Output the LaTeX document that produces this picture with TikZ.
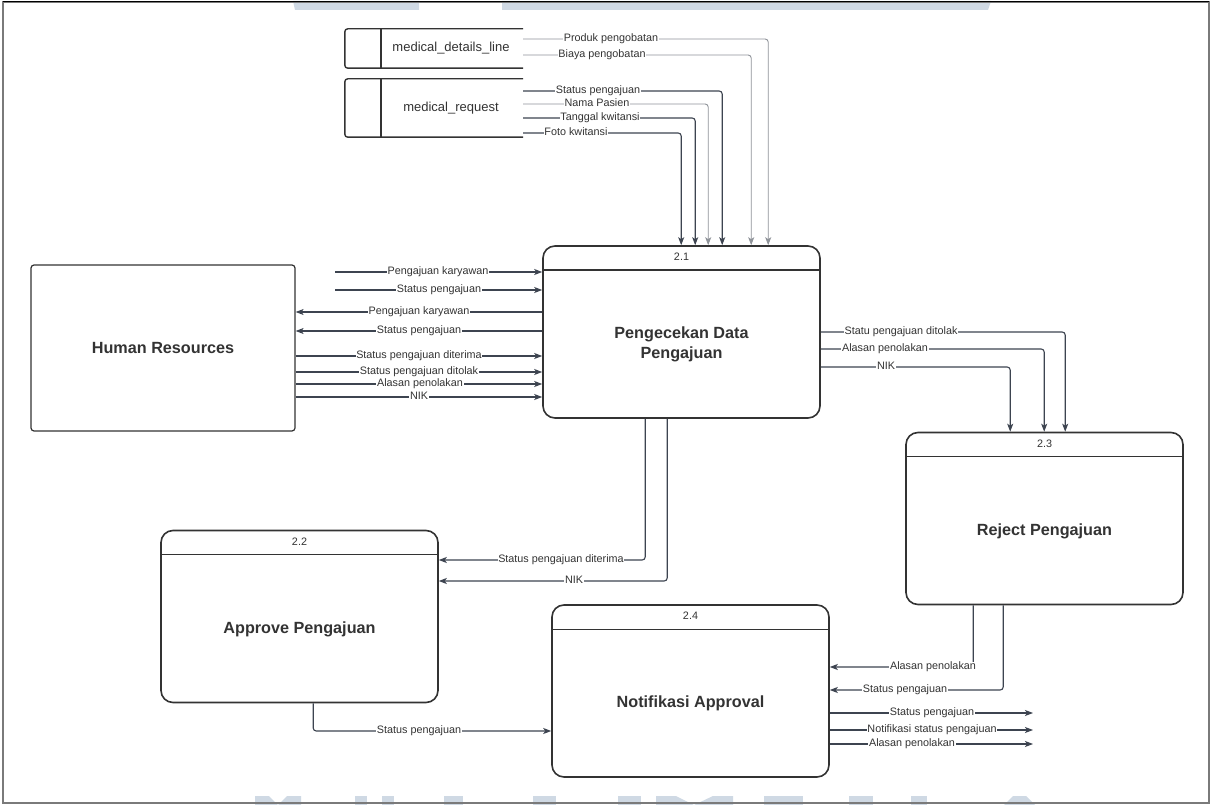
\documentclass[tikz,border=0pt]{standalone}
\usepackage{fontspec}
\setmainfont{Liberation Sans}
\usetikzlibrary{arrows.meta,calc}

\definecolor{ink}{HTML}{333333}
\definecolor{flow}{HTML}{3D4450}
\definecolor{softflow}{HTML}{8F9399}
\definecolor{wmcol}{HTML}{CFD9E4}
\definecolor{framecol}{HTML}{7A7A7A}

\tikzset{
  proc/.style={draw=ink, line width=1.6pt, rounded corners=12pt,
    minimum width=277pt, minimum height=172pt, inner sep=0pt},
  entity/.style={draw=ink, line width=1.2pt, rounded corners=3pt,
    minimum width=264pt, minimum height=166pt, inner sep=0pt},
  storebox/.style={minimum width=178pt, inner sep=0pt},
  storeedge/.style={draw=ink, line width=1.4pt, rounded corners=3pt},
  tip/.style={-{Stealth[length=8pt,width=6pt,inset=2pt]}},
  flowline/.style={draw=flow, line width=1.1pt, rounded corners=3pt, tip},
  softline/.style={draw=softflow, line width=0.9pt, rounded corners=3pt, tip},
  lbl/.style={fill=white, inner xsep=0.6pt, inner ysep=0pt, text=ink,
    font=\fontsize{10.8}{12}\selectfont, text height=8pt, text depth=2.5pt},
  idlbl/.style={text=ink, font=\fontsize{10.8}{12}\selectfont, inner sep=0pt},
  ttl/.style={text=ink, font=\bfseries\fontsize{16.2}{19.5}\selectfont,
    align=center, inner sep=0pt},
  storelbl/.style={text=ink, font=\fontsize{13}{15}\selectfont, inner sep=0pt},
}

\begin{document}
\begin{tikzpicture}[x=1pt,y=-1pt]
\useasboundingbox (0,0) rectangle (1211,805);
\fill[white] (0,0) rectangle (1211,805);

% faint background marks along the top and bottom edges
\fill[wmcol] (293,1) -- (419,1) -- (419,10) -- (295,10) -- cycle;
\fill[wmcol] (502,1) -- (991,1) -- (988,10) -- (502,10) -- cycle;
\begin{scope}[wmcol]
  % notched tops
  \fill (255,796) -- (269,796) -- (278,805) -- (287,796) -- (301,796) -- (301,805) -- (255,805) -- cycle;
  \fill (656,796) -- (676,796) -- (694,805) -- (713,796) -- (733,796) -- (733,805) -- (656,805) -- cycle;
  % twin stems
  \fill (355,796) rectangle (367,805);
  \fill (382,796) rectangle (394,805);
  % apex
  \fill (1013,796) -- (1026,796) -- (1035,805) -- (1004,805) -- cycle;
  % single blocks
  \foreach \a/\b in {444/463,533/556,618/641,764/803,849/873,911/927}
    \fill (\a,796) rectangle (\b,805);
\end{scope}

% outer frame
\draw[framecol, line width=1.6pt] (3,2) rectangle (1209,803);
\draw[black, line width=1pt] (3,1.5) -- (1209,1.5);

% ---------- data stores ----------
\node[storebox, minimum height=39pt] (ds1) at (434,48.5) {};
\draw[storeedge] (ds1.north east) -- (ds1.north west) -- (ds1.south west) -- (ds1.south east);
\draw[ink, line width=1.4pt] ($(ds1.north west)+(36,0)$) -- ($(ds1.south west)+(36,0)$);
\node[storelbl] at ($(ds1.center)+(17,0)$) {medical\_details\_line};

\node[storebox, minimum height=58pt] (ds2) at (434,108) {};
\draw[storeedge] (ds2.north east) -- (ds2.north west) -- (ds2.south west) -- (ds2.south east);
\draw[ink, line width=1.4pt] ($(ds2.north west)+(36,0)$) -- ($(ds2.south west)+(36,0)$);
\node[storelbl] at ($(ds2.center)+(17,0)$) {medical\_request};

% ---------- external entity ----------
\node[entity] (hr) at (163,348) {};
\node[ttl] at (hr.center) {Human Resources};

% ---------- processes ----------
\node[proc] (b21) at (681.5,332) {};
\node[proc] (b22) at (299.5,616.5) {};
\node[proc] (b23) at (1044.5,518.5) {};
\node[proc] (b24) at (690.5,691) {};

\foreach \p/\n in {b21/2.1,b22/2.2,b23/2.3,b24/2.4}{
  \draw[ink, line width=1.4pt] ($(\p.north west)+(0,25)$) -- ($(\p.north east)+(0,25)$);
  \node[idlbl] at ($(\p.north)+(0,12)$) {\n};
}
\node[ttl] at ($(b21.center)+(0,12.5)$) {Pengecekan Data\\Pengajuan};
\node[ttl] at ($(b22.center)+(0,12.5)$) {Approve Pengajuan};
\node[ttl] at ($(b23.center)+(0,12.5)$) {Reject Pengajuan};
\node[ttl] at ($(b24.center)+(0,12.5)$) {Notifikasi Approval};

% ---------- stores -> 2.1 ----------
\draw[softline] (ds1.east |- 0,39) -| ($(b21.north west)+(226,0)$);
\draw[softline] (ds1.east |- 0,55) -| ($(b21.north west)+(209,0)$);
\draw[flowline] (ds2.east |- 0,91) -| ($(b21.north west)+(180,0)$);
\draw[softline] (ds2.east |- 0,104) -| ($(b21.north west)+(166,0)$);
\draw[flowline] (ds2.east |- 0,118) -| ($(b21.north west)+(153,0)$);
\draw[flowline] (ds2.east |- 0,133) -| ($(b21.north west)+(139,0)$);
\node[lbl] at (611,39) {Produk pengobatan};
\node[lbl] at (602,55) {Biaya pengobatan};
\node[lbl] at (598,91) {Status pengajuan};
\node[lbl] at (597,104) {Nama Pasien};
\node[lbl] at (600,118) {Tanggal kwitansi};
\node[lbl] at (576,133) {Foto kwitansi};

% ---------- Human Resources <-> 2.1 ----------
\coordinate (in1) at (335,272);
\coordinate (in2) at (335,290);
\draw[flowline] (in1) -- (b21.west |- in1);
\draw[flowline] (in2) -- (b21.west |- in2);
\draw[flowline] (b21.west |- 0,312) -- (hr.east |- 0,312);
\draw[flowline] (b21.west |- 0,331) -- (hr.east |- 0,331);
\draw[flowline] (hr.east |- 0,356) -- (b21.west |- 0,356);
\draw[flowline] (hr.east |- 0,372) -- (b21.west |- 0,372);
\draw[flowline] (hr.east |- 0,384) -- (b21.west |- 0,384);
\draw[flowline] (hr.east |- 0,397) -- (b21.west |- 0,397);
\node[lbl] at (438,272) {Pengajuan karyawan};
\node[lbl] at (439,290) {Status pengajuan};
\node[lbl] at (419,312) {Pengajuan karyawan};
\node[lbl] at (419,331) {Status pengajuan};
\node[lbl] at (419,356) {Status pengajuan diterima};
\node[lbl] at (419,372) {Status pengajuan ditolak};
\node[lbl] at (420,384) {Alasan penolakan};
\node[lbl] at (419,397) {NIK};

% ---------- 2.1 -> 2.3 ----------
\draw[flowline] (b21.east |- 0,332) -| ($(b23.north west)+(160,0)$);
\draw[flowline] (b21.east |- 0,349) -| ($(b23.north west)+(139,0)$);
\draw[flowline] (b21.east |- 0,367) -| ($(b23.north west)+(105,0)$);
\node[lbl] at (901,332) {Statu pengajuan ditolak};
\node[lbl] at (885,349) {Alasan penolakan};
\node[lbl] at (886,367) {NIK};

% ---------- 2.1 -> 2.2 ----------
\draw[flowline] ($(b21.south west)+(103,0)$) |- (b22.east |- 0,560);
\draw[flowline] ($(b21.south west)+(125,0)$) |- (b22.east |- 0,581);
\node[lbl] at (561,560) {Status pengajuan diterima};
\node[lbl] at (574,581) {NIK};

% ---------- 2.3 -> 2.4 ----------
\draw[flowline] ($(b23.south west)+(68,0)$) |- (b24.east |- 0,667);
\draw[flowline] ($(b23.south west)+(98,0)$) |- (b24.east |- 0,690);
\node[lbl] at (933,667) {Alasan penolakan};
\node[lbl] at (905,690) {Status pengajuan};

% ---------- 2.2 -> 2.4 ----------
\draw[flowline] ($(b22.south west)+(153,0)$) |- (b24.west |- 0,731);
\node[lbl] at (419,731) {Status pengajuan};

% ---------- outputs of 2.4 ----------
\coordinate (out1) at (1033,713);
\coordinate (out2) at (1033,730);
\coordinate (out3) at (1033,744);
\draw[flowline] (b24.east |- out1) -- (out1);
\draw[flowline] (b24.east |- out2) -- (out2);
\draw[flowline] (b24.east |- out3) -- (out3);
\node[lbl] at (932,713) {Status pengajuan};
\node[lbl] at (932,730) {Notifikasi status pengajuan};
\node[lbl] at (912,744) {Alasan penolakan};
\end{tikzpicture}
\end{document}
